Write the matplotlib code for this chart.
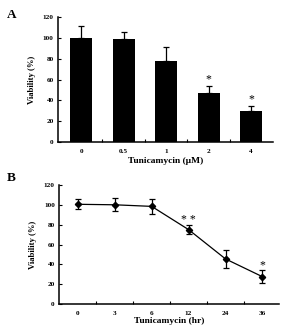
import numpy as np
import matplotlib
matplotlib.use('Agg')
import matplotlib.pyplot as plt

plt.rcParams['font.family'] = ['Liberation Serif', 'DejaVu Serif']
plt.rcParams['font.weight'] = 'bold'
plt.rcParams['axes.labelweight'] = 'bold'

# panel A: dose
dose_labels = ['0', '0.5', '1', '2', '4']
dose_viab = [100, 98.6, 78, 46.7, 29.8]
dose_err = [11, 6.5, 13.5, 7, 5]
dose_sig = ['', '', '', '*', '*']

# panel B: time
time_labels = ['0', '3', '6', '12', '24', '36']
time_viab = [100.5, 100, 98.4, 75, 45.5, 27.6]
time_err = [5.2, 6.5, 7.5, 4.3, 9.1, 6.4]
time_sig = ['', '', '', '* *', '', '*']

yticks = [0, 20, 40, 60, 80, 100, 120]

fig = plt.figure(figsize=(2.81, 3.32), dpi=100)


def style(ax):
    ax.spines['top'].set_visible(False)
    ax.spines['right'].set_visible(False)
    for s in ['left', 'bottom']:
        ax.spines[s].set_linewidth(1.1)
    ax.set_ylim(0, 120)
    ax.set_yticks(yticks)
    ax.tick_params(axis='y', direction='in', length=2, width=0.8, labelsize=5.2, pad=3)
    ax.tick_params(axis='x', which='both', length=0, labelsize=5.2, pad=5)
    ax.tick_params(axis='x', which='minor', direction='in', length=2, width=0.8)
    for lab in ax.get_xticklabels() + ax.get_yticklabels():
        lab.set_fontweight('bold')
    ax.set_ylabel('Viability (%)', fontsize=6.2, fontweight='bold', labelpad=5)


# A
axA = fig.add_axes([0.206, 0.572, 0.766, 0.377])
xa = np.arange(len(dose_labels))
axA.bar(xa, dose_viab, width=0.52, color='black')
axA.errorbar(xa, dose_viab, yerr=[np.zeros(len(xa)), dose_err], fmt='none',
             ecolor='black', elinewidth=0.9, capsize=2, capthick=0.9)
for x, v, e, s in zip(xa, dose_viab, dose_err, dose_sig):
    if s:
        axA.text(x, v + e + 0.5, s, ha='center', va='bottom', fontsize=8.5, fontweight='normal')
axA.set_xlim(-0.55, 4.52)
axA.set_xticks(xa)
axA.set_xticklabels(dose_labels)
axA.set_xticks(xa[:-1] + 0.5, minor=True)
style(axA)
axA.set_xlabel('Tunicamycin (\u03bcM)', fontsize=6.8, fontweight='bold', labelpad=2)
fig.text(0.025, 0.955, 'A', fontsize=9.5, fontweight='bold', va='center')

# B
axB = fig.add_axes([0.21, 0.084, 0.783, 0.359])
xb = np.arange(len(time_labels))
axB.errorbar(xb, time_viab, yerr=time_err, fmt='-D', color='black', lw=0.9,
             ms=3.2, elinewidth=0.9, capsize=2, capthick=0.9)
for x, v, e, s in zip(xb, time_viab, time_err, time_sig):
    if s:
        axB.text(x, v + e - 1, s, ha='center', va='bottom', fontsize=8.5, fontweight='normal')
axB.set_xlim(-0.51, 5.45)
axB.set_xticks(xb)
axB.set_xticklabels(time_labels)
axB.set_xticks(xb[:-1] + 0.5, minor=True)
style(axB)
axB.set_xlabel('Tunicamycin (hr)', fontsize=6.8, fontweight='bold', labelpad=1)
fig.text(0.025, 0.463, 'B', fontsize=9.5, fontweight='bold', va='center')

fig.savefig('out.png', dpi=100)
